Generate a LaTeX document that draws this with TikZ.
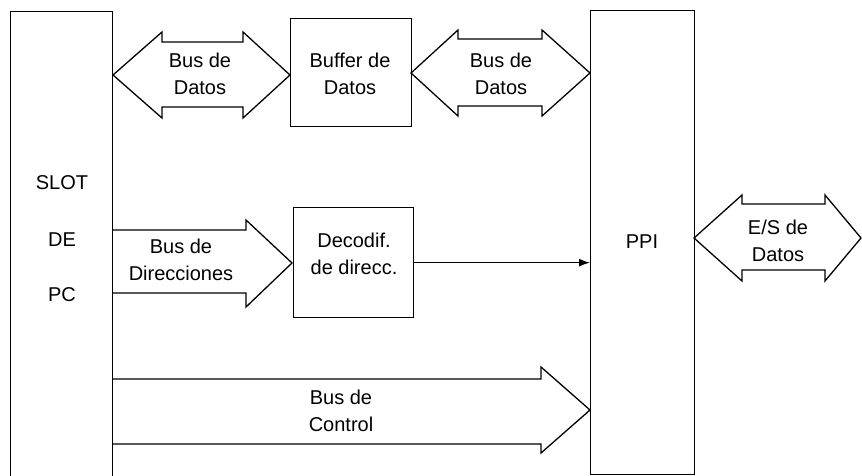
\documentclass[tikz,border=0pt]{standalone}
\usepackage{fontspec}
\setmainfont{Liberation Sans}
\usetikzlibrary{arrows.meta}
\tikzset{
  x=1pt, y=-1pt,
  line/.style={draw=black, line width=1.3pt, line join=miter},
  blockbox/.style={line, rectangle, inner sep=0pt},
  lbl/.style={align=center, inner sep=0pt, font=\fontsize{20}{27}\selectfont},
}
\begin{document}
\begin{tikzpicture}
\useasboundingbox (0,0) rectangle (862,476);
\clip (0,0) rectangle (862,476);
% boxes
\node[blockbox, minimum width=102pt, minimum height=480pt, anchor=north west] (slot) at (10,11) {};
\node[blockbox, minimum width=104pt, minimum height=464pt, anchor=north west] (ppi) at (590,10) {};
\node[blockbox, minimum width=121pt, minimum height=108pt, anchor=north west] (buf) at (290,18) {};
\node[blockbox, minimum width=120pt, minimum height=110pt, anchor=north west] (dec) at (293,207) {};
% texts in boxes
\node[lbl] (t1) at (62,183) {SLOT};
\node[lbl] (t2) at (62,240) {DE};
\node[lbl] (t3) at (62,295) {PC};
\node[lbl] (tppi) at (642,242) {PPI};
\node[lbl] (tbuf) at (350,74) {Buffer de\\Datos};
\node[lbl] (tdec) at (354,254) {Decodif.\\de direcc.};
% bus de datos 1
\draw[line] (113,75) -- (162,32) -- (162,42) -- (243,42) -- (243,32) -- (290,75)
  -- (243,118) -- (243,107) -- (162,107) -- (162,118) -- cycle;
\node[lbl] (bd1) at (200,74) {Bus de\\Datos};
% bus de datos 2
\draw[line] (411,73) -- (458,30) -- (458,39) -- (542,39) -- (542,30) -- (590,73)
  -- (542,116) -- (542,106) -- (458,106) -- (458,116) -- cycle;
\node[lbl] (bd2) at (501,74) {Bus de\\Datos};
% E/S de datos
\draw[line] (694,238) -- (742,195) -- (742,204) -- (825,204) -- (825,195) -- (861,238)
  -- (825,281) -- (825,270) -- (742,270) -- (742,281) -- cycle;
\node[lbl] (es) at (778,241) {E/S de\\Datos};
% bus de direcciones
\draw[line] (113,230) -- (246,230) -- (246,220) -- (292,263) -- (246,307) -- (246,293) -- (113,293);
\node[lbl] (bdir) at (181,260) {Bus de\\Direcciones};
% bus de control
\draw[line] (113,379) -- (541,379) -- (541,367) -- (590,410) -- (541,453) -- (541,444) -- (113,444);
\node[lbl] (bctl) at (341,411) {Bus de\\Control};
% decoder to PPI
\draw[line, -{Latex[length=11pt,width=8pt]}] (dec.east) -- (dec.east -| ppi.west);
\end{tikzpicture}
\end{document}
